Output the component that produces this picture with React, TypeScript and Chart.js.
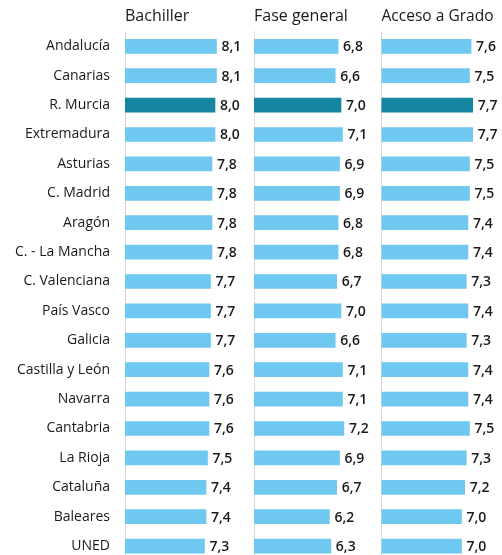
import React, { useEffect, useRef } from "react";
import { Chart, registerables } from "chart.js";

Chart.register(...registerables);

const regions = [
  "Andalucía", "Canarias", "R. Murcia", "Extremadura", "Asturias", "C. Madrid",
  "Aragón", "C. - La Mancha", "C. Valenciana", "País Vasco", "Galicia",
  "Castilla y León", "Navarra", "Cantabria", "La Rioja", "Cataluña", "Baleares", "UNED",
];
const bachiller = [8.1, 8.1, 8.0, 8.0, 7.8, 7.8, 7.8, 7.8, 7.7, 7.7, 7.7, 7.6, 7.6, 7.6, 7.5, 7.4, 7.4, 7.3];
const faseGeneral = [6.8, 6.6, 7.0, 7.1, 6.9, 6.9, 6.8, 6.8, 6.7, 7.0, 6.6, 7.1, 7.1, 7.2, 6.9, 6.7, 6.2, 6.3];
const accesoGrado = [7.6, 7.5, 7.7, 7.7, 7.5, 7.5, 7.4, 7.4, 7.3, 7.4, 7.3, 7.4, 7.4, 7.5, 7.3, 7.2, 7.0, 7.0];
const panelTitles = ["Bachiller", "Fase general", "Acceso a Grado"];
const highlightRegion = "R. Murcia";

const FONT = "'Open Sans', sans-serif";
const LIGHT = "#6fc8ef";
const DARK = "#14869f";
const TEXT = "#1a1a1a";

const valueLabels = {
  id: "valueLabels",
  afterDatasetsDraw(chart: any) {
    const ctx = chart.ctx;
    ctx.save();
    ctx.font = `600 14px ${FONT}`;
    ctx.fillStyle = TEXT;
    ctx.textBaseline = "middle";
    ctx.textAlign = "left";
    const meta = chart.getDatasetMeta(0);
    const data = chart.data.datasets[0].data as number[];
    meta.data.forEach((bar: any, i: number) => {
      ctx.fillText(data[i].toFixed(1).replace(".", ","), bar.x + 5, bar.y + 1);
    });
    ctx.restore();
  },
};

type PanelProps = {
  title: string;
  values: number[];
  showLabels: boolean;
  left: number;
  width: number;
  axisWidth: number;
  padRight: number;
  min: number;
  max: number;
};

function Panel(p: PanelProps) {
  const ref = useRef<HTMLCanvasElement>(null);
  useEffect(() => {
    if (!ref.current) return;
    const chart = new Chart(ref.current, {
      type: "bar",
      data: {
        labels: regions,
        datasets: [
          {
            data: p.values,
            backgroundColor: regions.map((r) => (r === highlightRegion ? DARK : LIGHT)),
            barThickness: 14,
          },
        ],
      },
      options: {
        indexAxis: "y",
        responsive: false,
        animation: false,
        layout: { padding: { left: 0, right: p.padRight, top: 0, bottom: 1.2 } },
        scales: {
          x: { display: false, min: p.min, max: p.max },
          y: {
            display: true,
            grid: { display: false, drawTicks: false },
            border: { display: true, color: "#d9d9d9", width: 1 },
            ticks: {
              display: p.showLabels,
              padding: 15,
              color: TEXT,
              font: { family: FONT, size: 14 },
            },
            afterFit: (s: any) => {
              s.width = p.axisWidth;
              s.paddingTop = 0;
              s.paddingBottom = 0;
            },
          },
        },
        plugins: {
          legend: { display: false },
          tooltip: { enabled: false },
          title: {
            display: true,
            text: p.title,
            align: "start",
            fullSize: false,
            color: TEXT,
            font: { family: FONT, size: 16, weight: "normal" },
            padding: { top: 7, bottom: 5.4 },
          },
        },
      },
      plugins: [valueLabels],
    } as any);
    return () => chart.destroy();
  }, []);
  return (
    <canvas
      ref={ref}
      width={p.width}
      height={562}
      style={{ position: "absolute", left: p.left, top: 0, width: p.width, height: 562 }}
    />
  );
}

export default function App() {
  return (
    <div
      style={{
        position: "absolute",
        left: 0,
        top: 0,
        width: 502,
        height: 555,
        overflow: "hidden",
        background: "#fff",
      }}
    >
      <Panel title={panelTitles[0]} values={bachiller} showLabels left={0} width={250} axisWidth={125} padRight={5} min={2} max={10} />
      <Panel title={panelTitles[1]} values={faseGeneral} showLabels={false} left={250} width={126} axisWidth={4} padRight={6} min={1} max={9} />
      <Panel title={panelTitles[2]} values={accesoGrado} showLabels={false} left={376} width={126} axisWidth={5.5} padRight={8.5} min={2} max={9} />
    </div>
  );
}
